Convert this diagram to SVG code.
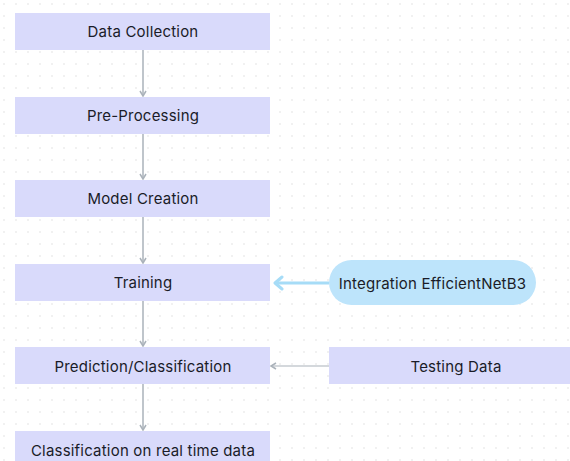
<svg xmlns="http://www.w3.org/2000/svg" width="570" height="461" viewBox="0 0 570 461">
<defs>
<pattern id="dots" x="3" y="3" width="12" height="12" patternUnits="userSpaceOnUse">
<circle cx="1" cy="1" r="0.7" fill="#d8d8d8"/>
</pattern>
<marker id="ah" markerWidth="8" markerHeight="8" refX="6" refY="4" orient="auto" markerUnits="userSpaceOnUse">
<path d="M1,1 L6,4 L1,7" fill="none" stroke="#aab2ba" stroke-width="1.5"/>
</marker>
<marker id="ahb" markerWidth="16" markerHeight="16" refX="10" refY="8" orient="auto" markerUnits="userSpaceOnUse">
<path d="M3,2 L10,8 L3,14" fill="none" stroke="#a6dcf7" stroke-width="3" stroke-linecap="round" stroke-linejoin="round"/>
</marker>
</defs>
<style>
.box{fill:#d9dafb}
.pill{fill:#bde4fb}
.t{font-family:Inter,"Liberation Sans",sans-serif;font-size:15px;letter-spacing:0.2px;fill:#1a1c28;text-anchor:middle;dominant-baseline:central}
.c{stroke:#aab2ba;stroke-width:1.5;fill:none}
</style>
<rect width="570" height="461" fill="#ffffff"/>
<rect width="570" height="461" fill="url(#dots)"/>
<g id="connectors">
<line class="c" x1="143" y1="50" x2="143" y2="96" marker-end="url(#ah)"/>
<line class="c" x1="143" y1="134" x2="143" y2="179" marker-end="url(#ah)"/>
<line class="c" x1="143" y1="217" x2="143" y2="263" marker-end="url(#ah)"/>
<line class="c" x1="143" y1="301" x2="143" y2="346" marker-end="url(#ah)"/>
<line class="c" x1="143" y1="384" x2="143" y2="430" marker-end="url(#ah)"/>
<line x1="329" y1="283" x2="275" y2="283" stroke="#a6dcf7" stroke-width="3" marker-end="url(#ahb)"/>
<line x1="329" y1="366" x2="271" y2="366" stroke="#aab2ba" stroke-width="1.2" marker-end="url(#ah)"/>
</g>
<g id="data-collection"><rect class="box" x="15" y="13" width="255" height="37"/><text class="t" x="143" y="31">Data Collection</text></g>
<g id="pre-processing"><rect class="box" x="15" y="97" width="255" height="37"/><text class="t" x="143" y="115">Pre-Processing</text></g>
<g id="model-creation"><rect class="box" x="15" y="180" width="255" height="37"/><text class="t" x="143" y="198">Model Creation</text></g>
<g id="training"><rect class="box" x="15" y="264" width="255" height="37"/><text class="t" x="143" y="282.5">Training</text></g>
<g id="prediction"><rect class="box" x="15" y="347" width="255" height="37"/><text class="t" x="143" y="366">Prediction/Classification</text></g>
<g id="classification-realtime"><rect class="box" x="15" y="431" width="255" height="37"/><text class="t" x="143" y="450">Classification on real time data</text></g>
<g id="integration"><rect class="pill" x="329" y="260" width="207" height="45" rx="22.5"/><text class="t" x="432.5" y="283">Integration EfficientNetB3</text></g>
<g id="testing-data"><rect class="box" x="329" y="347" width="241" height="37"/><text class="t" x="456" y="366">Testing Data</text></g>
</svg>
